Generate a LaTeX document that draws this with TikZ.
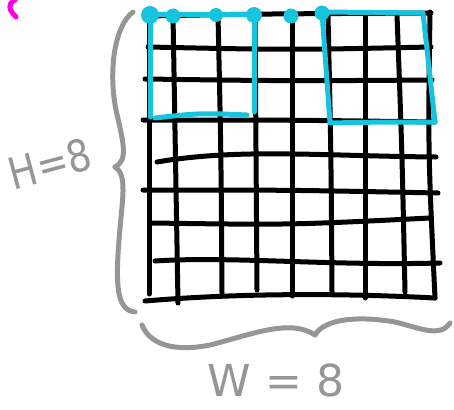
\documentclass[tikz,border=0pt]{standalone}
\usepackage{fontspec}
\newfontfamily\handfont{DejaVu Sans}
\definecolor{gridc}{RGB}{0,0,0}
\definecolor{cyanc}{RGB}{22,196,222}
\definecolor{grayc}{RGB}{150,150,150}
\definecolor{magc}{RGB}{255,0,220}
\tikzset{
  gridline/.style={draw=gridc,line width=5pt,line cap=round,line join=round},
  cyanline/.style={draw=cyanc,line width=5pt,line cap=round,line join=round},
  braceline/.style={draw=grayc,line width=5pt,line cap=round,line join=round},
  dotc/.style={fill=cyanc},
  lbl/.style={text=grayc,font=\handfont\fontsize{44}{44}\selectfont,inner sep=0pt}
}
\begin{document}
\begin{tikzpicture}[x=1pt,y=-1pt]
\useasboundingbox (0,0) rectangle (454,409);
% magenta stroke (cut off)
\draw[draw=magc,line width=5pt,line cap=round] (15,0) .. controls (7,4) and (9,10) .. (16,17);
% horizontal grid lines
\draw[gridline] (148,16) .. controls (250,14) .. (431,13);
\draw[gridline] (148,47) .. controls (290,50) .. (431,47);
\draw[gridline] (145,79) .. controls (290,81) .. (432,80);
\draw[gridline] (143,120) .. controls (290,120) .. (435,122);
\draw[gridline] (157,162) .. controls (240,148) and (320,156) .. (436,157);
\draw[gridline] (143,190) .. controls (290,190) .. (438,193);
\draw[gridline] (152,223) .. controls (290,225) .. (430,218);
\draw[gridline] (155,261) .. controls (230,256) and (330,266) .. (440,263);
\draw[gridline] (145,301) .. controls (250,292) and (360,294) .. (435,298);
% vertical grid lines
\draw[gridline] (149,15) -- (149,294);
\draw[gridline] (173,15) -- (178,303);
\draw[gridline] (218,15) .. controls (221,150) .. (222,293);
\draw[gridline] (255,15) .. controls (256,150) .. (257,290);
\draw[gridline] (292,15) -- (292,296);
\draw[gridline] (328,15) .. controls (331,150) .. (332,292);
\draw[gridline] (365,15) -- (365,298);
\draw[gridline] (397,15) .. controls (402,150) .. (405,292);
\draw[gridline] (430,12) .. controls (428,150) .. (435,298);
% cyan windows
\draw[cyanline] (150,15) -- (254,15);
\draw[cyanline] (150,15) -- (150,117);
\draw[cyanline] (155,118) .. controls (200,113) .. (247,115);
\draw[cyanline] (254,17) -- (254,112);
\draw[cyanline] (322,12) -- (423,13) -- (435,122) .. controls (380,122) .. (330,123) -- cycle;
% cyan dots
\fill[dotc] (150,15) circle (9);
\fill[dotc] (173,16) circle (7.5);
\fill[dotc] (216,15) circle (7);
\fill[dotc] (254,15) circle (8);
\fill[dotc] (291,16) circle (7.5);
\fill[dotc] (322,13) circle (7.5);
% left brace
\draw[braceline] (133,12) .. controls (115,25) and (108,70) .. (116,110)
  .. controls (124,145) and (128,160) .. (115,167);
\draw[braceline] (115,167) .. controls (128,175) and (122,200) .. (119,240)
  .. controls (115,290) and (118,310) .. (135,312);
% bottom brace
\draw[braceline] (142,325) .. controls (150,345) and (175,352) .. (210,345)
  .. controls (250,335) and (290,318) .. (315,335);
\draw[braceline] (315,335) .. controls (325,318) and (360,316) .. (395,322)
  .. controls (420,328) and (440,338) .. (450,323);
% labels
\node[lbl,rotate=15,xscale=0.85] (hlabel) at (50,164) {H=8};
\node[lbl] (wlabel) at (276,380) {W = 8};
\end{tikzpicture}
\end{document}
